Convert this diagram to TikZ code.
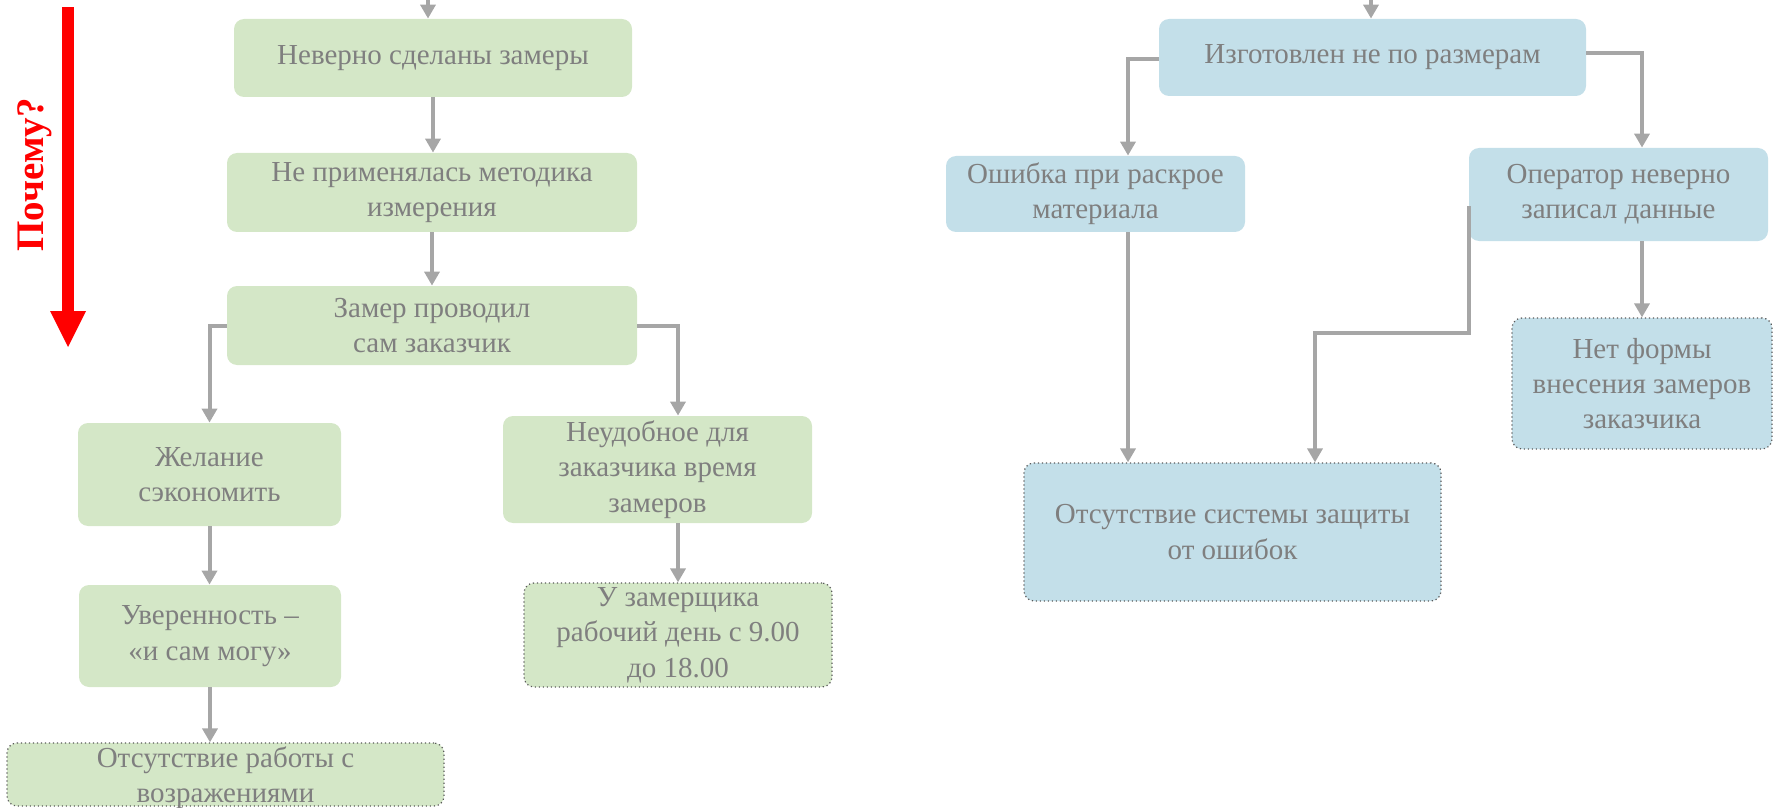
\documentclass[tikz,border=0pt]{standalone}
\usepackage{fontspec}
\setmainfont{Liberation Serif}
\usetikzlibrary{arrows.meta,calc}
\definecolor{boxgreen}{RGB}{212,231,199}
\definecolor{boxblue}{RGB}{195,223,233}
\definecolor{txtgray}{RGB}{127,127,127}
\definecolor{linegray}{RGB}{166,166,166}
\definecolor{dotgray}{RGB}{89,89,89}
\begin{document}
\begin{tikzpicture}[x=0.5pt,y=-0.5pt,
  box/.style={rectangle, rounded corners=5pt, inner sep=0pt, align=center,
    text=txtgray, font=\fontsize{14.5}{17.7}\selectfont},
  gbox/.style={box, fill=boxgreen},
  bbox/.style={box, fill=boxblue},
  leaf/.style={draw=dotgray, line width=0.6pt, dash pattern=on 0.6pt off 1.4pt},
  conn/.style={draw=linegray, line width=2pt, -{Triangle[width=7.5pt,length=7pt]}}]
\useasboundingbox (0,0) rectangle (1774,808);

% "why" arrow on the left
\node[rotate=90, text=red, font=\bfseries\fontsize{19.5}{22}\selectfont] (why) at (35,175) {Почему?};
\fill[red] (62,7) rectangle (74,312);
\fill[red] (50,311) -- (86,311) -- (68,347) -- cycle;

% left tree
\node[gbox, minimum width=199pt, minimum height=39pt] (n1) at (433,58) {Неверно сделаны замеры};
\node[gbox, minimum width=205pt, minimum height=39.5pt] (n2) at (432,192.5) {Не применялась методика\\измерения};
\node[gbox, minimum width=205pt, minimum height=39.5pt] (n3) at (432,325.5) {Замер проводил\\сам заказчик};
\node[gbox, minimum width=131.5pt, minimum height=51.5pt] (n4) at (209.5,474.5) {Желание\\сэкономить};
\node[gbox, minimum width=154.5pt, minimum height=53.5pt] (n5) at (657.5,469.5) {Неудобное для\\заказчика время\\замеров};
\node[gbox, leaf, minimum width=154pt, minimum height=52pt] (n6) at (678,635) {У замерщика\\рабочий день с 9.00\\до 18.00};
\node[gbox, minimum width=131pt, minimum height=51pt] (n7) at (210,636) {Уверенность –\\«и сам могу»};
\node[gbox, leaf, minimum width=218.5pt, minimum height=31.5pt,
  label={[box, yshift=-1.5pt]center:Отсутствие работы с\\возражениями}] (n8) at (225.5,774.5) {};

\coordinate (t1) at (428,-20);
\draw[conn] (t1) -- (t1 |- n1.north);
\draw[conn] (n1.south) -- (n1.south |- n2.north);
\draw[conn] (n2.south) -- (n2.south |- n3.north);
\draw[conn] (n3.west) -| (n4.north);
\draw[conn] (n3.east) -| (n5.north -| n6.north);
\draw[conn] (n5.south -| n6.north) -- (n6.north);
\draw[conn] (n4.south) -- (n4.south |- n7.north);
\draw[conn] (n7.south) -- (n7.south |- n8.north);

% right tree
\node[bbox, minimum width=213.5pt, minimum height=38.5pt] (nA) at (1372.5,57.5) {Изготовлен не по размерам};
\node[bbox, minimum width=149.5pt, minimum height=38pt] (nB) at (1095.5,194) {Ошибка при раскрое\\материала};
\node[bbox, minimum width=149.5pt, minimum height=46.5pt] (nC) at (1618.5,194.5) {Оператор неверно\\записал данные};
\node[bbox, leaf, minimum width=208.5pt, minimum height=69pt] (nD) at (1232.5,532) {Отсутствие системы защиты\\от ошибок};
\node[bbox, leaf, minimum width=130pt, minimum height=65.5pt] (nE) at (1642,383.5) {Нет формы\\внесения замеров\\заказчика};

\coordinate (t2) at (1371,-20);
\draw[conn] (t2) -- (t2 |- nA.north);
\draw[conn] ([yshift=-0.75pt]nA.west) -| ([xshift=16.25pt]nB.north);
\draw[conn] ([yshift=2.25pt]nA.east) -| (nC.north -| nE.north);
\draw[conn] ([xshift=16.25pt]nB.south) -- ([xshift=16.25pt]nB.south |- nD.north);
\draw[conn] ([yshift=-6pt]nC.west) -- ++(0,-63pt) -| ([xshift=41.25pt]nD.north);
\draw[conn] (nC.south -| nE.north) -- (nE.north);
\end{tikzpicture}
\end{document}
